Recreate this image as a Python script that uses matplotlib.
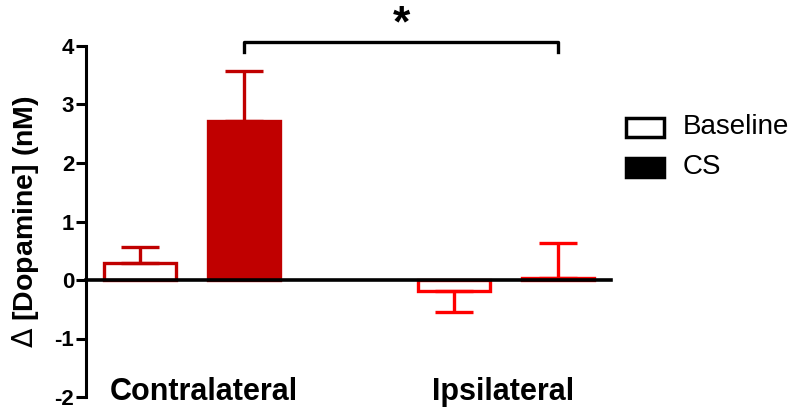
import numpy as np
import matplotlib.pyplot as plt
from matplotlib.patches import Rectangle

# Valores medios y error (SEM) por grupo
grupos = ['Contralateral', 'Ipsilateral']
baseline = [0.29, -0.18]
cs = [2.71, 0.03]
err_baseline = [0.27, 0.36]
err_cs = [0.87, 0.60]
colores = ['#c00000', '#ff0000']
series = ['Baseline', 'CS']

plt.rcParams['font.family'] = ['Liberation Sans', 'DejaVu Sans']
plt.rcParams['axes.unicode_minus'] = False

W, H = 792, 415
fig = plt.figure(figsize=(W / 100, H / 100), dpi=100)
ax = fig.add_axes([86 / W, 1 - 397 / H, 525 / W, 351 / H])

centros = np.array([1.06, 4.20])
off = 0.52
ancho = 0.72

for i, c in enumerate(centros):
    col = colores[i]
    # Baseline: barra hueca
    ax.bar(c - off, baseline[i], ancho, facecolor='white', edgecolor=col, linewidth=2.4, zorder=2)
    # CS: barra rellena
    ax.bar(c + off, cs[i], ancho, facecolor=col, edgecolor=col, linewidth=2.4, zorder=2)
    # Barras de error en un solo sentido
    for x, v, e in [(c - off, baseline[i], err_baseline[i]), (c + off, cs[i], err_cs[i])]:
        lo = [[0], [e]] if v >= 0 else [[e], [0]]
        ax.errorbar(x, v, yerr=lo, fmt='none', ecolor=col, elinewidth=2.4,
                    capsize=13.5, capthick=2.4, zorder=3)

ax.set_xlim(0, 5.25)
ax.set_ylim(-2, 4)
ax.set_yticks(range(-2, 5))
ax.set_xticks([])
ax.spines['top'].set_visible(False)
ax.spines['right'].set_visible(False)
ax.spines['bottom'].set_position(('data', 0))
ax.spines['left'].set_linewidth(2.2)
ax.spines['bottom'].set_linewidth(2.6)
ax.spines['bottom'].set_zorder(4)
ax.tick_params(axis='y', direction='out', length=7.5, width=2.2, labelsize=16, pad=1)
for t in ax.get_yticklabels():
    t.set_fontweight('bold')

ax.set_ylabel(r'$\Delta$ [Dopamine] (nM)', fontsize=20.5, fontweight='bold', labelpad=10)

for xc, g in zip([1.18, 4.17], grupos):
    ax.text(xc, -1.91, g, ha='center', va='center', fontsize=22, fontweight='bold')

# Corchete de significancia entre CS contralateral e ipsilateral
x1, x2 = centros[0] + off, centros[1] + off
yb = 4.07
ax.plot([x1, x1, x2, x2], [yb - 0.17, yb, yb, yb - 0.17], color='black', lw=2.4, clip_on=False)
ax.text((x1 + x2) / 2, 4.36, '*', ha='center', va='center', fontsize=32, fontweight='bold')

# Leyenda dibujada a mano
for k, (nombre, relleno) in enumerate(zip(series, ['white', 'black'])):
    yc = 127 + 40 * k
    fig.add_artist(Rectangle((626 / W, 1 - (yc + 10) / H), 38 / W, 19 / H,
                             transform=fig.transFigure, facecolor=relleno,
                             edgecolor='black', linewidth=2.5))
    fig.text(683 / W, 1 - yc / H, nombre, ha='left', va='center', fontsize=20)

fig.savefig('out.png', dpi=100)
